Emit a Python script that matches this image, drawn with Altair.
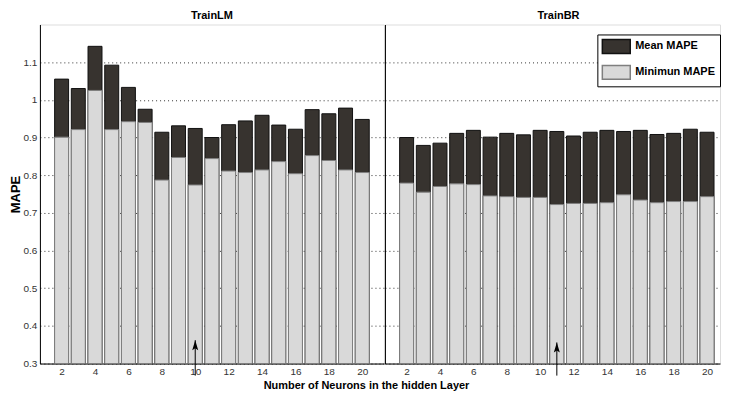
import altair as alt
import pandas as pd

neurons = list(range(2, 21))
lm_mean = [1.055, 1.030, 1.142, 1.092, 1.033, 0.975, 0.914, 0.931, 0.924, 0.900,
           0.934, 0.944, 0.959, 0.933, 0.922, 0.974, 0.963, 0.978, 0.948]
lm_min = [0.901, 0.921, 1.025, 0.921, 0.942, 0.940, 0.787, 0.847, 0.774, 0.844,
          0.811, 0.807, 0.814, 0.836, 0.804, 0.852, 0.839, 0.814, 0.807]
br_mean = [0.900, 0.879, 0.885, 0.911, 0.919, 0.901, 0.911, 0.907, 0.919, 0.916,
           0.904, 0.914, 0.919, 0.916, 0.919, 0.908, 0.911, 0.922, 0.914]
br_min = [0.779, 0.755, 0.770, 0.777, 0.775, 0.745, 0.743, 0.741, 0.741, 0.722,
          0.725, 0.725, 0.727, 0.748, 0.734, 0.727, 0.730, 0.730, 0.743]

series_names = ["Mean MAPE", "Minimun MAPE"]
panels = ["TrainLM", "TrainBR"]
arrow_x = [10, 11]
arrow_tip = [0.362, 0.356]
arrow_tail = [0.268, 0.268]
y_ticks = [0.3, 0.4, 0.5, 0.6, 0.7, 0.8, 0.9, 1.0, 1.1]
x_ticks = list(range(2, 21, 2))

rows = []
for p, mean_vals, min_vals in [(panels[0], lm_mean, lm_min), (panels[1], br_mean, br_min)]:
    for s, vals in [(series_names[0], mean_vals), (series_names[1], min_vals)]:
        for n, v in zip(neurons, vals):
            rows.append({"panel": p, "series": s, "neurons": n, "value": v})
df = pd.DataFrame(rows)
arrows = pd.DataFrame({"panel": panels, "neurons": arrow_x, "value": arrow_tip, "tail": arrow_tail})

FONT = "Liberation Sans, Arial, Helvetica, sans-serif"

fill_scale = alt.Scale(domain=series_names, range=["#37332f", "#d9d9d9"])
stroke_scale = alt.Scale(domain=series_names, range=["#111111", "#7f7f7f"])

legend = alt.Legend(
    title=None, orient="none", legendX=559, legendY=10,
    symbolType="M-1,-1H3V1H-1Z", symbolSize=196, symbolStrokeWidth=1.5,
    labelFont=FONT, labelFontSize=11, labelFontWeight="bold", labelColor="black",
    labelOffset=18, rowPadding=6, padding=4, strokeColor="black", fillColor="white",
)


def panel(name, domain, width, left):
    xaxis = alt.Axis(
        values=x_ticks, grid=False, ticks=False,
        domainColor="black", domainWidth=1,
        labelFont=FONT, labelFontSize=10, labelColor="#333333", labelPadding=3,
        title="Number of Neurons in the hidden Layer" if left else None,
        titleFont=FONT, titleFontSize=11, titleFontWeight="bold", titleColor="black",
        titleX=327, titleY=16, titleAlign="center", titleBaseline="top",
    )
    if left:
        yaxis = alt.Axis(
            values=y_ticks, format="~g",
            grid=True, gridDash=[1, 3], gridColor="#333333", gridWidth=1,
            ticks=False, domainColor="black", domainWidth=1,
            labelFont=FONT, labelFontSize=10, labelColor="#333333", labelPadding=3,
            title="MAPE", titleFont=FONT, titleFontSize=13, titleFontWeight="bold",
            titleColor="black", titlePadding=1,
        )
    else:
        yaxis = alt.Axis(
            values=y_ticks,
            grid=True, gridDash=[1, 3], gridColor="#333333", gridWidth=1,
            ticks=False, labels=False, domainColor="black", domainWidth=1, title=None,
        )
    xs = alt.Scale(domain=domain, nice=False, zero=False)
    ys = alt.Scale(domain=[0.3, 1.2], nice=False, zero=False)

    base = alt.Chart(df).transform_filter(alt.datum.panel == name)

    def bars(series):
        return base.transform_filter(alt.datum.series == series).mark_bar(size=14, strokeWidth=1).encode(
            x=alt.X("neurons:Q", scale=xs, axis=xaxis),
            y=alt.Y("value:Q", scale=ys, axis=yaxis),
            y2=alt.datum(0.3),
            fill=alt.Fill("series:N", scale=fill_scale, legend=legend),
            stroke=alt.Stroke("series:N", scale=stroke_scale, legend=legend),
        )

    abase = alt.Chart(arrows).transform_filter(alt.datum.panel == name)
    shaft = abase.mark_rule(color="black", strokeWidth=1).encode(
        x=alt.X("neurons:Q", scale=xs, axis=xaxis),
        y=alt.Y("tail:Q", scale=ys, axis=yaxis),
        y2="value:Q",
    )
    head = abase.mark_point(
        shape="M0,0L0.6,2L0,1.6L-0.6,2Z", filled=True, size=100, color="black", opacity=1
    ).encode(
        x=alt.X("neurons:Q", scale=xs, axis=xaxis),
        y=alt.Y("value:Q", scale=ys, axis=yaxis),
    )
    return alt.layer(bars(series_names[0]), bars(series_names[1]), shaft, head).properties(
        width=width, height=340,
        title=alt.TitleParams(name, font=FONT, fontSize=11, fontWeight="bold",
                              color="black", offset=4, dx=0 if left else 6),
    )


left = panel("TrainLM", [1, 21], 345, True)
right = panel("TrainBR", [1, 20.478], 336, False)

chart = alt.hconcat(left, right, spacing=1, bounds="flush").properties(
    padding=0
).configure_view(strokeWidth=0).configure(background="white")

chart.save("out.html", embed_options={"renderer": "svg", "actions": False})
